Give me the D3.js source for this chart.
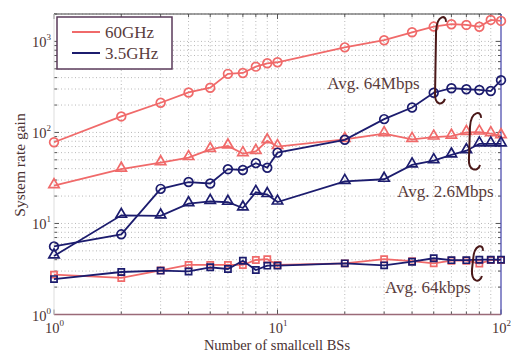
<!DOCTYPE html>
<html><head><meta charset="utf-8">
<script src="https://cdn.jsdelivr.net/npm/d3@7"></script>
<style>body{margin:0;background:#fff}svg{display:block}</style>
</head><body>
<svg id="c" width="511" height="351"></svg>
<script>
const xs = [1,2,3,4,5,6,7,8,9,10,20,30,40,50,60,70,80,90,100];
const red_circle = [78,150,212,275,310,440,450,528,575,590,860,1030,1260,1455,1545,1517,1450,1722,1680];
const red_tri = [26,39.5,46.5,53,65,71,58.5,62,81,70,84,97,84,89,91,100,101,97,92];
const red_sq = [2.74,2.52,3.05,3.5,3.5,3.5,3.5,3.97,4.05,3.5,3.65,4.05,3.85,3.65,3.9,3.9,3.62,3.95,3.95];
const navy_circle = [5.6,7.6,24,28.5,27.5,39.5,38.7,46,41,60,83,140,188,273,306,298,293,285,375];
const navy_tri = [4.4,12.3,12.1,16.5,17.5,17.1,14.8,22,20.8,17.2,29,30.6,44,49,56.6,63,75,75,75];
const navy_sq = [2.45,2.93,3.03,2.97,3.3,3.16,3.9,3.08,3.44,3.44,3.65,3.47,3.8,4.15,3.95,3.95,4.0,4.0,4.0];
const legendNames = ["60GHz","3.5GHz"];
const xTicks = [1,10,100];
const yTicks = [1,10,100,1000];
const annoText = ["Avg. 64Mbps","Avg. 2.6Mbps","Avg. 64kbps"];
const annoX = [16.7,34.3,30.3];
const annoY = [301,19.6,1.72];
const brX = [[50.7,56.7],[71.9,81.4],[74.2,83]];
const brY = [[1858,206],[164,38.7],[5.66,2.33]];

const RED = "#f06a6a", NAVY = "#1c1c6e", TXT = "#4a3232", BR = "#4a1818";
const svg = d3.select("#c");
const x = d3.scaleLog().domain([1,100]).range([54,501]);
const y = d3.scaleLog().domain([1,2000]).range([314.5,14]);
const FONT = "Liberation Serif, Times New Roman, serif";

// grid
const xMinor = [];
for (let d of [1,10]) for (let k=1;k<10;k++) xMinor.push(d*k);
xMinor.push(100);
const yMinor = [];
for (let d of [1,10,100,1000]) for (let k=1;k<10;k++) if (d*k<=2000) yMinor.push(d*k);
const g = svg.append("g");
g.selectAll(".gx").data(xMinor.filter(v=>v>1&&v<100)).enter().append("line")
  .attr("x1",d=>x(d)).attr("x2",d=>x(d)).attr("y1",y(2000)).attr("y2",y(1))
  .attr("stroke","#b8b8b8").attr("stroke-width",1).attr("stroke-dasharray","1,2.5");
g.selectAll(".gy").data(yMinor.filter(v=>v>1)).enter().append("line")
  .attr("x1",x(1)).attr("x2",x(100)).attr("y1",d=>y(d)).attr("y2",d=>y(d))
  .attr("stroke","#b8b8b8").attr("stroke-width",1).attr("stroke-dasharray","1,2.5");

// ticks (inward on all sides)
const tk = svg.append("g").attr("stroke","#555").attr("stroke-width",1);
xMinor.forEach(v=>{
  const L = xTicks.includes(v)?5:3;
  tk.append("line").attr("x1",x(v)).attr("x2",x(v)).attr("y1",y(1)).attr("y2",y(1)-L);
  tk.append("line").attr("x1",x(v)).attr("x2",x(v)).attr("y1",y(2000)).attr("y2",y(2000)+L);
});
yMinor.forEach(v=>{
  const L = yTicks.includes(v)?5:3;
  tk.append("line").attr("y1",y(v)).attr("y2",y(v)).attr("x1",x(1)).attr("x2",x(1)+L);
  tk.append("line").attr("y1",y(v)).attr("y2",y(v)).attr("x1",x(100)).attr("x2",x(100)-L);
});

// frame
svg.append("line").attr("x1",x(1)).attr("x2",x(100)).attr("y1",y(2000)).attr("y2",y(2000)).attr("stroke","#444").attr("stroke-width",1.2);
svg.append("line").attr("x1",x(1)).attr("x2",x(100)).attr("y1",y(1)).attr("y2",y(1)).attr("stroke","#9a6a78").attr("stroke-width",1.5);
svg.append("line").attr("x1",x(100)).attr("x2",x(100)).attr("y1",y(2000)).attr("y2",y(1)).attr("stroke","#5050b0").attr("stroke-width",1.3);
svg.append("line").attr("x1",x(1)).attr("x2",x(1)).attr("y1",y(2000)).attr("y2",y(1)).attr("stroke","#ddd").attr("stroke-width",1);

// series
const line = d3.line().x(d=>x(d[0])).y(d=>y(d[1]));
function series(vals, color, shape) {
  const pts = xs.map((v,i)=>[v,vals[i]]);
  svg.append("path").datum(pts).attr("d",line).attr("fill","none").attr("stroke",color).attr("stroke-width",1.8);
  const sym = d3.symbol().type(shape==="c"?d3.symbolCircle:shape==="t"?d3.symbolTriangle:d3.symbolSquare)
    .size(shape==="c"?60:shape==="t"?46:38);
  svg.append("g").selectAll("path").data(pts).enter().append("path")
    .attr("d",sym).attr("transform",d=>`translate(${x(d[0])},${y(d[1]) + (shape==="t"?-1:0)})`)
    .attr("fill","none").attr("stroke",color).attr("stroke-width",1.7);
}
series(red_circle, RED, "c");
series(red_tri, RED, "t");
series(red_sq, RED, "s");
series(navy_circle, NAVY, "c");
series(navy_tri, NAVY, "t");
series(navy_sq, NAVY, "s");

// brackets
brX.forEach((bx,i)=>{
  const xl = x(bx[0]), xr = x(bx[1]), yt = y(brY[i][0]), yb = y(brY[i][1]);
  const p = d3.path();
  p.moveTo(xr, yt+5);
  p.bezierCurveTo(xr+1, yt-2, xl+2, yt-3, xl+1, yt+14);
  p.lineTo(xl, yb-12);
  p.bezierCurveTo(xl-1, yb+2, xr-3, yb+2, xr-1, yb-5);
  svg.append("path").attr("d",p.toString()).attr("fill","none").attr("stroke",BR).attr("stroke-width",2);
});

// annotations
annoText.forEach((t,i)=>{
  svg.append("text").attr("x",x(annoX[i])).attr("y",y(annoY[i])).text(t)
    .attr("font-family",FONT).attr("font-size",17).attr("fill","#5a3c3c");
});

// tick labels
function pow10(sel, exp) {
  sel.append("tspan").text("10");
  sel.append("tspan").text(exp).attr("font-size",9).attr("dy",-7);
}
yTicks.forEach(v=>{
  const t = svg.append("text").attr("x",32).attr("y",y(v)+6).attr("font-family",FONT).attr("font-size",14.5).attr("fill",TXT);
  pow10(t, Math.round(Math.log10(v)));
});
xTicks.forEach(v=>{
  const t = svg.append("text").attr("x",x(v)-9).attr("y",333).attr("font-family",FONT).attr("font-size",14.5).attr("fill",TXT);
  pow10(t, Math.round(Math.log10(v)));
});

// axis titles
svg.append("text").attr("x",277).attr("y",349.5).attr("text-anchor","middle").text("Number of smallcell BSs")
  .attr("font-family",FONT).attr("font-size",14.5).attr("fill",TXT);
svg.append("text").attr("transform","translate(25,165) rotate(-90)").attr("text-anchor","middle").text("System rate gain")
  .attr("font-family",FONT).attr("font-size",15.5).attr("fill",TXT);

// legend
svg.append("rect").attr("x",57).attr("y",17).attr("width",115).attr("height",52)
  .attr("fill","#fff").attr("stroke","#5a3a5a").attr("stroke-width",1.5);
[RED,NAVY].forEach((c,i)=>{
  const ly = 32 + i*21;
  svg.append("line").attr("x1",72).attr("x2",100).attr("y1",ly).attr("y2",ly).attr("stroke",c).attr("stroke-width",2);
  svg.append("text").attr("x",105).attr("y",ly+5.5).text(legendNames[i])
    .attr("font-family",FONT).attr("font-size",17).attr("fill","#5a3c3c");
});
</script>
</body></html>
